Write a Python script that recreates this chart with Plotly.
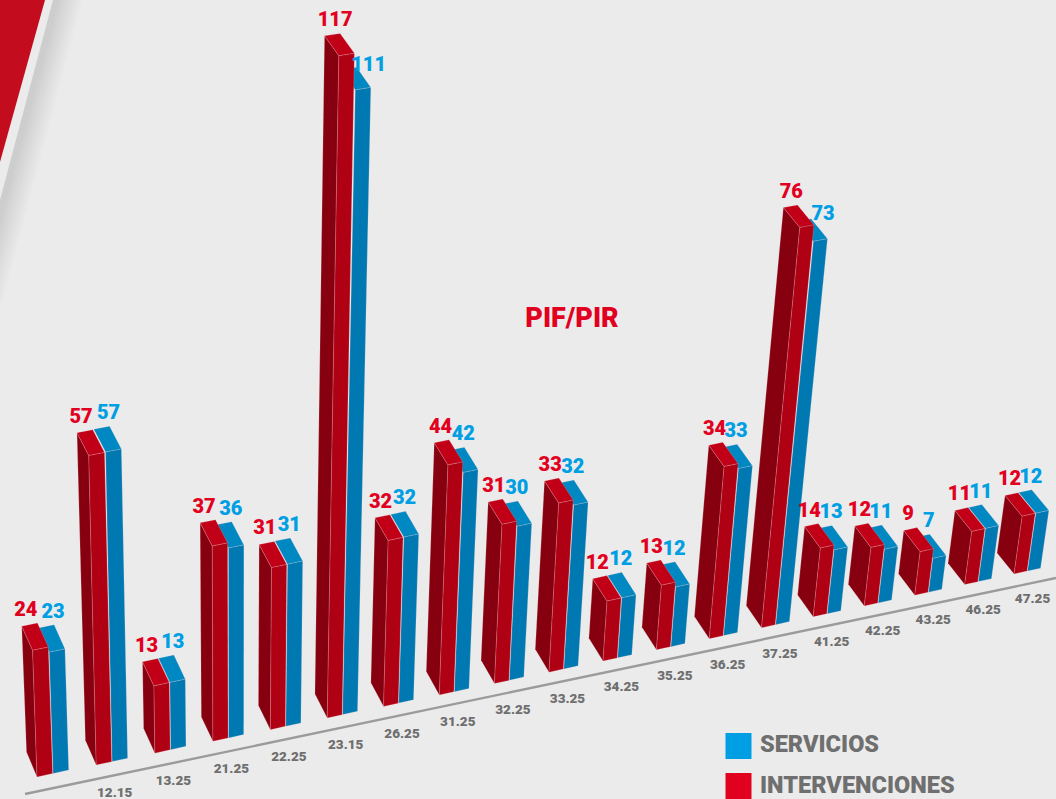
import plotly.graph_objects as go

periods = ["", "12.15", "13.25", "21.25", "22.25", "23.15", "26.25", "31.25", "32.25", "33.25",
           "34.25", "35.25", "36.25", "37.25", "41.25", "42.25", "43.25", "46.25", "47.25"]
intervenciones = [24, 57, 13, 37, 31, 117, 32, 44, 31, 33, 12, 13, 34, 76, 14, 12, 9, 11, 12]
servicios = [23, 57, 13, 36, 31, 111, 32, 42, 30, 32, 12, 12, 33, 73, 13, 11, 7, 11, 12]

BG = "#ebebeb"
RED = {"front": "#b00014", "left": "#86000f", "top": "#c10018"}
BLUE = {"front": "#0079b2", "top": "#0088c2"}
RED_TXT = "#e2001f"
BLUE_TXT = "#009fe3"
GREY = "#6f6f6f"
FONT = "Roboto"


def base(i):
    return 37 + 59.5 * i - 0.29 * i * i, 777 - 12 * i + 0.04 * i * i


def height(v, i):
    return v * (5.15 - 0.022 * i) + 0.0053 * v * v


def bar_geometry(x0, y0, v, i):
    h = height(v, i)
    lean = (x0 - 230) * 0.00018
    w0 = 15.6 - 2.6 * i / 18
    wt = w0 * (1 + 0.00007 * h)
    slope_t = 0.22 - 0.0001 * h
    ddx = 10.5 + 6.5 * i / 18
    ddy = 25 - 4 * i / 18
    dtx = ddx + 0.003 * h
    dty = ddy * (1 - 0.00025 * h)
    xt, yt = x0 + lean * h, y0 - h
    fbl = (x0, y0)
    fbr = (x0 + w0, y0 - 0.22 * w0)
    ftl = (xt, yt)
    ftr = (xt + wt, yt - slope_t * wt)
    btl = (xt - dtx, yt - dty)
    btr = (ftr[0] - dtx, ftr[1] - dty)
    bbl = (x0 - ddx, y0 - ddy)
    return dict(front=[fbl, fbr, ftr, ftl], top=[ftl, ftr, btr, btl], left=[fbl, ftl, btl, bbl], w=w0)


fig = go.Figure()


def face(points, color):
    xs = [p[0] for p in points] + [points[0][0]]
    ys = [p[1] for p in points] + [points[0][1]]
    fig.add_trace(go.Scatter(x=xs, y=ys, mode="lines", fill="toself", fillcolor=color,
                             line=dict(color="rgba(255,215,215,0.28)", width=0.7),
                             hoverinfo="skip", showlegend=False))


def text(x, y, s, color, size):
    fig.add_trace(go.Scatter(x=[x], y=[y], mode="text", text=[s], textposition="middle center",
                             textfont=dict(family=FONT, size=size, color=color, weight=900),
                             hoverinfo="skip", showlegend=False))


# axis line
fig.add_trace(go.Scatter(x=[25, 1056], y=[794, 578], mode="lines", line=dict(color="#9b9b9b", width=2.4),
                         hoverinfo="skip", showlegend=False))

labels = []
for i in range(len(intervenciones) - 1, -1, -1):
    x0, y0 = base(i)
    w = 15.6 - 2.6 * i / 18
    red = bar_geometry(x0, y0, intervenciones[i], i)
    blue = bar_geometry(x0 + w + 0.5, y0 - 0.22 * (w + 0.5), servicios[i], i)
    face(blue["top"], BLUE["top"])
    face(blue["front"], BLUE["front"])
    face(red["left"], RED["left"])
    face(red["top"], RED["top"])
    face(red["front"], RED["front"])
    rt = red["top"]
    bt = blue["top"]
    h_red = height(intervenciones[i], i)
    labels.append((rt[3][0] + 4 + (h_red * 0.01 if x0 > 230 else 0), rt[3][1] - 15,
                   str(intervenciones[i]), RED_TXT, 20))
    diff = intervenciones[i] - servicios[i]
    tall = diff >= 3
    labels.append((bt[2][0] - 1 + (13 if tall else 0), bt[2][1] - 12 + (5 + diff if tall else 0),
                   str(servicios[i]), BLUE_TXT, 20))
    if periods[i]:
        labels.append((x0 + 18.5, y0 + 29 - i * 0.2, periods[i], GREY, 13.5))

for lx, ly, s, c, sz in labels:
    text(lx, ly, s, c, sz)

text(572, 320, "PIF/PIR", RED_TXT, 27)

# legend
fig.add_trace(go.Scatter(x=[738.5, 738.5], y=[746, 786], mode="markers",
                         marker=dict(symbol="square", size=26, color=[BLUE_TXT, RED_TXT], line=dict(width=0)),
                         hoverinfo="skip", showlegend=False))
fig.add_trace(go.Scatter(x=[760, 760], y=[746, 787], mode="text", text=["SERVICIOS", "INTERVENCIONES"],
                         textposition="middle right",
                         textfont=dict(family=FONT, size=23.5, color=GREY, weight=900),
                         hoverinfo="skip", showlegend=False))

# decorative corner
SLOPE = 0.265
shapes = [dict(type="path", path="M0,0 L45,0 L0,162 Z", fillcolor="#c30d1e", line=dict(width=0), layer="below")]
N = 16
for k in range(N - 1, -1, -1):
    o0 = 1.9 * k
    o1 = 1.9 * (k + 1) + 0.5
    t = k / (N - 1)
    g = int(200 + (235 - 200) * (t ** 0.9)) if k > 2 else 205
    c = f"rgb({g},{g},{g})"
    shapes.append(dict(type="path",
                       path=f"M{53 + o0},0 L{53 + o1},0 L0,{(53 + o1) / SLOPE} L0,{(53 + o0) / SLOPE} Z",
                       fillcolor=c, line=dict(width=0), layer="below"))

fig.update_layout(
    width=1056, height=799, margin=dict(l=0, r=0, t=0, b=0),
    paper_bgcolor=BG, plot_bgcolor=BG, showlegend=False, shapes=shapes,
    xaxis=dict(range=[0, 1056], visible=False, fixedrange=True),
    yaxis=dict(range=[799, 0], visible=False, fixedrange=True),
)
fig.write_html("out.html", config={"displayModeBar": False},
               post_script="document.documentElement.style.overflow='hidden';document.body.style.margin='0';document.body.style.background='#ebebeb';")
